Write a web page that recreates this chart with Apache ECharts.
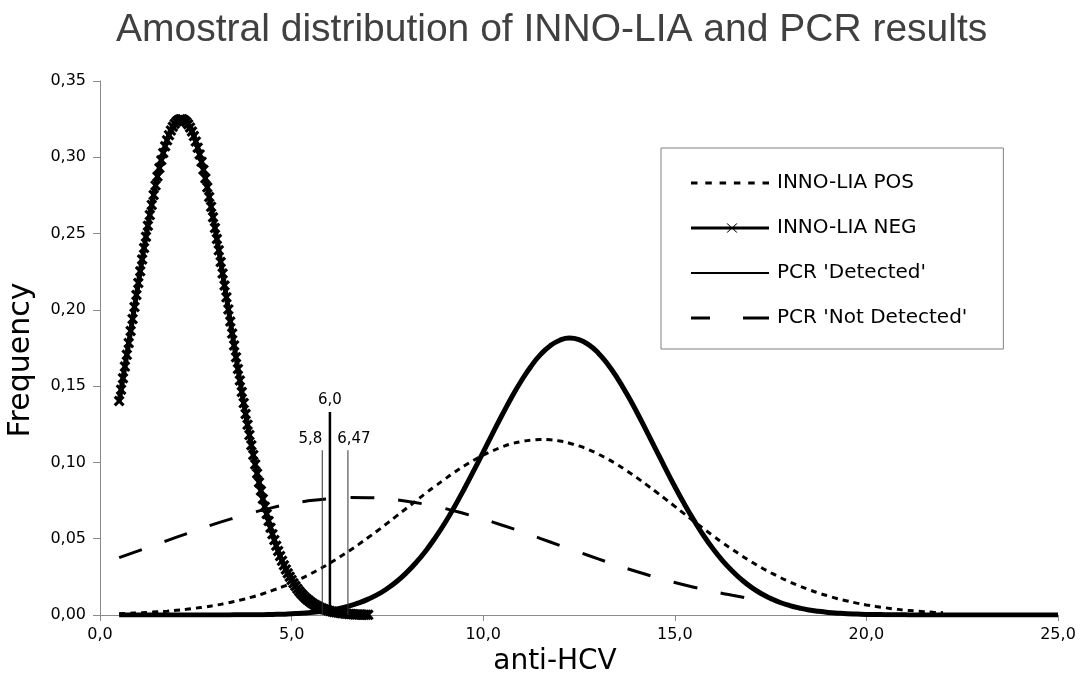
<!DOCTYPE html>
<html>
<head>
<meta charset="utf-8">
<title>Amostral distribution of INNO-LIA and PCR results</title>
<script src="https://cdn.jsdelivr.net/npm/echarts@6.0.0/dist/echarts.min.js"></script>
<style>
    html, body { margin: 0; padding: 0; background: #fff; }
    #chart { width: 1083px; height: 679px; }
</style>
</head>
<body>
<div id="chart"></div>
<script>
// series names, as in the legend
const seriesNames = ['INNO-LIA POS', 'INNO-LIA NEG', "PCR 'Detected'", "PCR 'Not Detected'"];

// INNO-LIA NEG, read every 0.05 from x = 0.5
const negStart = 0.5, negStep = 0.05;
const negValues = [
    0.1403, 0.1477, 0.1552, 0.1628, 0.1705, 0.1783, 0.1861, 0.1940, 0.2019, 0.2097,
    0.2176, 0.2253, 0.2330, 0.2405, 0.2479, 0.2551, 0.2621, 0.2688, 0.2753, 0.2815,
    0.2874, 0.2929, 0.2981, 0.3028, 0.3072, 0.3111, 0.3145, 0.3175, 0.3200, 0.3220,
    0.3235, 0.3245, 0.3250, 0.3250, 0.3243, 0.3232, 0.3217, 0.3195, 0.3169, 0.3139,
    0.3103, 0.3063, 0.3019, 0.2970, 0.2918, 0.2862, 0.2803, 0.2740, 0.2675, 0.2607,
    0.2537, 0.2464, 0.2390, 0.2314, 0.2238, 0.2160, 0.2082, 0.2003, 0.1924, 0.1845,
    0.1767, 0.1689, 0.1612, 0.1537, 0.1462, 0.1389, 0.1317, 0.1247, 0.1179, 0.1113,
    0.1049, 0.0987, 0.0927, 0.0869, 0.0814, 0.0761, 0.0710, 0.0662, 0.0616, 0.0572,
    0.0530, 0.0491, 0.0454, 0.0419, 0.0386, 0.0355, 0.0326, 0.0299, 0.0274, 0.0251,
    0.0229, 0.0208, 0.0190, 0.0172, 0.0156, 0.0141, 0.0128, 0.0115, 0.0104, 0.0094,
    0.0084, 0.0075, 0.0068, 0.0060, 0.0054, 0.0048, 0.0043, 0.0038, 0.0034, 0.0030,
    0.0026, 0.0023, 0.0020, 0.0018, 0.0016, 0.0014, 0.0012, 0.0011, 0.0009, 0.0008,
    0.0007, 0.0006, 0.0005, 0.0004, 0.0004, 0.0003, 0.0003, 0.0002, 0.0002, 0.0002,
    0.0001
];

// INNO-LIA POS and PCR 'Detected', read every 0.25 from x = 0.5
const quarterStart = 0.5, quarterStep = 0.25;
const posValues = [
    0.0009, 0.0011, 0.0014, 0.0017, 0.0021, 0.0025, 0.0031, 0.0037, 0.0045, 0.0053,
    0.0063, 0.0075, 0.0088, 0.0103, 0.0120, 0.0139, 0.0161, 0.0184, 0.0210, 0.0239,
    0.0270, 0.0304, 0.0340, 0.0379, 0.0420, 0.0463, 0.0508, 0.0554, 0.0602, 0.0651,
    0.0700, 0.0749, 0.0798, 0.0845, 0.0891, 0.0935, 0.0976, 0.1014, 0.1048, 0.1077,
    0.1102, 0.1123, 0.1137, 0.1146, 0.1150, 0.1148, 0.1140, 0.1126, 0.1108, 0.1084,
    0.1055, 0.1022, 0.0985, 0.0945, 0.0902, 0.0856, 0.0809, 0.0761, 0.0712, 0.0663,
    0.0614, 0.0566, 0.0519, 0.0473, 0.0430, 0.0388, 0.0349, 0.0312, 0.0278, 0.0246,
    0.0217, 0.0190, 0.0166, 0.0144, 0.0125, 0.0107, 0.0092, 0.0078, 0.0066, 0.0056,
    0.0047, 0.0039, 0.0032, 0.0027, 0.0022, 0.0018, 0.0015
];
const detectedValues = [
    0, 0, 0, 0, 0, 0, 0, 0, 0, 0, 0, 0,
    0.0001, 0.0001, 0.0002, 0.0002, 0.0004, 0.0005, 0.0008, 0.0011, 0.0016, 0.0023,
    0.0032, 0.0043, 0.0059, 0.0079, 0.0104, 0.0135, 0.0174, 0.0221, 0.0278, 0.0344,
    0.0420, 0.0507, 0.0603, 0.0710, 0.0824, 0.0944, 0.1068, 0.1192, 0.1314, 0.1431,
    0.1537, 0.1631, 0.1708, 0.1765, 0.1801, 0.1815, 0.1805, 0.1772, 0.1718, 0.1644,
    0.1553, 0.1448, 0.1334, 0.1212, 0.1088, 0.0963, 0.0842, 0.0727, 0.0620, 0.0521,
    0.0433, 0.0355, 0.0288, 0.0230, 0.0181, 0.0141, 0.0109, 0.0082, 0.0062, 0.0046,
    0.0033, 0.0024, 0.0017, 0.0012, 0.0008, 0.0006, 0.0004, 0.0003, 0.0002, 0.0001,
    0.0001,
    0, 0, 0, 0, 0, 0, 0, 0, 0, 0, 0, 0, 0, 0, 0, 0
];

// PCR 'Not Detected', read every 0.5 from x = 0.5
const halfStart = 0.5, halfStep = 0.5;
const notDetectedValues = [
    0.0376, 0.0420, 0.0465, 0.0510, 0.0554, 0.0597, 0.0636, 0.0672, 0.0704, 0.0730,
    0.0750, 0.0763, 0.0770, 0.0769, 0.0761, 0.0746, 0.0725, 0.0698, 0.0665, 0.0629,
    0.0588, 0.0546, 0.0501, 0.0456, 0.0412, 0.0368, 0.0325, 0.0285, 0.0248, 0.0213,
    0.0182, 0.0154, 0.0129, 0.0107
];

// cut-off lines
const cutoffX = [5.8, 6.0, 6.47];
const cutoffTop = [0.108, 0.133, 0.108];
const cutoffLabels = ['5,8', '6,0', '6,47'];

// axis ticks
const xTicks = [0, 5, 10, 15, 20, 25];
const yTicks = [0, 0.05, 0.10, 0.15, 0.20, 0.25, 0.30, 0.35];

function toPairs(start, step, values) {
    return values.map((v, i) => [+(start + i * step).toFixed(2), v]);
}
const comma = (v, d) => v.toFixed(d).replace('.', ',');

// legend icons (tiny specks at top and bottom keep every icon box 78x10)
const box = 'M0,0h0.01v0.01h-0.01z M0,9.99h0.01v0.01h-0.01z ';
const legendIcons = [
    'path://' + box + 'M0,3.5h6.5v3h-6.5z M14.3,3.5h6.5v3h-6.5z M28.6,3.5h6.5v3h-6.5z M42.9,3.5h6.5v3h-6.5z M57.2,3.5h6.5v3h-6.5z M71.5,3.5h6.5v3h-6.5z',
    'path://' + box + 'M0,3.5H78V6.5H0Z M35.5,0.5L36.7,0.5L46.5,9.5L45.3,9.5Z M45.3,0.5L46.5,0.5L36.7,9.5L35.5,9.5Z',
    'path://' + box + 'M0,4H78V6H0Z',
    'path://' + box + 'M0,3.5h19v3h-19z M52,3.5h26v3h-26z'
];

const crossSymbol = 'path://M0,2L2,0L5,3L8,0L10,2L7,5L10,8L8,10L5,7L2,10L0,8L3,5Z';

const font = 'DejaVu Sans';
const axisGray = '#8a8a8a';

const series = [
    {
        name: seriesNames[0],
        type: 'line',
        data: toPairs(quarterStart, quarterStep, posValues),
        smooth: true,
        symbol: 'none',
        itemStyle: {color: '#000'},
        lineStyle: {color: '#000', width: 3, type: [6, 5]},
        z: 2
    },
    {
        name: seriesNames[2],
        type: 'line',
        data: toPairs(quarterStart, quarterStep, detectedValues),
        smooth: true,
        symbol: 'none',
        itemStyle: {color: '#000'},
        lineStyle: {color: '#000', width: 5},
        z: 3
    },
    {
        name: seriesNames[3],
        type: 'line',
        data: toPairs(halfStart, halfStep, notDetectedValues),
        smooth: true,
        symbol: 'none',
        itemStyle: {color: '#000'},
        lineStyle: {color: '#000', width: 3, type: [24, 24]},
        z: 2
    },
    {
        name: seriesNames[1],
        type: 'line',
        data: toPairs(negStart, negStep, negValues),
        symbol: crossSymbol,
        symbolSize: 11,
        showAllSymbol: true,
        itemStyle: {color: '#000'},
        lineStyle: {color: '#000', width: 5},
        z: 4
    }
];

// vertical cut-off lines
const cutoffWidth = [1, 2.5, 1];
cutoffX.forEach((x, i) => {
    series.push({
        name: 'cutoff ' + cutoffLabels[i],
        type: 'line',
        data: [[x, 0], [x, cutoffTop[i]]],
        symbol: 'none',
        silent: true,
        itemStyle: {color: '#000'},
        lineStyle: {color: i === 1 ? '#000' : '#333', width: cutoffWidth[i]},
        z: 5
    });
});

// cut-off labels, hung on the top of each line
const cutoffLabelStyle = [
    {position: 'top', align: 'right', distance: 3, offset: [0, 0]},
    {position: 'top', align: 'center', distance: 4, offset: [0, 0]},
    {position: 'top', align: 'center', distance: 3, offset: [6, 0]}
];
series.push({
    name: 'cutoff labels',
    type: 'scatter',
    symbolSize: 1,
    silent: true,
    itemStyle: {color: 'rgba(0,0,0,0)'},
    data: cutoffX.map((x, i) => ({
        value: [x, cutoffTop[i]],
        label: Object.assign({
            show: true,
            formatter: cutoffLabels[i],
            fontFamily: font,
            fontSize: 15,
            color: '#000',
            opacity: 1
        }, cutoffLabelStyle[i])
    })),
    z: 6
});

const option = {
    animation: false,
    backgroundColor: '#fff',
    textStyle: {fontFamily: font},
    title: {
        text: 'Amostral distribution of INNO-LIA and PCR results',
        left: 116,
        top: 11,
        padding: 0,
        textStyle: {fontFamily: 'Liberation Sans', fontSize: 39, fontWeight: 'normal', color: '#404040'}
    },
    legend: {
        orient: 'vertical',
        left: 661,
        top: 148,
        padding: [25, 36, 21, 30],
        itemGap: 25,
        itemWidth: 78,
        itemHeight: 10,
        symbolKeepAspect: true,
        selectedMode: false,
        borderColor: '#808080',
        borderWidth: 1,
        data: seriesNames.map((n, i) => ({name: n, icon: legendIcons[i]})),
        textStyle: {fontFamily: font, fontSize: 20, color: '#000', padding: [0, 0, 0, 3]}
    },
    grid: {left: 100, right: 25, top: 81, bottom: 64},
    xAxis: {
        type: 'value',
        min: xTicks[0],
        max: xTicks[xTicks.length - 1],
        interval: xTicks[1] - xTicks[0],
        axisLine: {lineStyle: {color: axisGray, width: 1}},
        axisTick: {length: 6, lineStyle: {color: axisGray}},
        splitLine: {show: false},
        axisLabel: {
            formatter: v => comma(v, 1),
            fontFamily: font, fontSize: 16, color: '#000', margin: 12,
            showMinLabel: true, showMaxLabel: true
        }
    },
    yAxis: {
        type: 'value',
        min: yTicks[0],
        max: yTicks[yTicks.length - 1],
        interval: yTicks[1] - yTicks[0],
        axisLine: {show: true, lineStyle: {color: axisGray, width: 1}},
        axisTick: {show: true, length: 7, lineStyle: {color: axisGray}},
        splitLine: {show: false},
        axisLabel: {
            formatter: v => comma(v, 2),
            fontFamily: font, fontSize: 16, color: '#000', margin: 14
        }
    },
    graphic: [
        {
            type: 'text',
            x: 21, y: 360,
            rotation: Math.PI / 2,
            style: {text: 'Frequency', font: '30px "DejaVu Sans"', fill: '#000', align: 'center', verticalAlign: 'middle'}
        },
        {
            type: 'text',
            x: 555, y: 662,
            style: {text: 'anti-HCV', font: '28px "DejaVu Sans"', fill: '#000', align: 'center', verticalAlign: 'middle'}
        }
    ],
    series: series
};

const chart = echarts.init(document.getElementById('chart'));
chart.setOption(option);
</script>
</body>
</html>
